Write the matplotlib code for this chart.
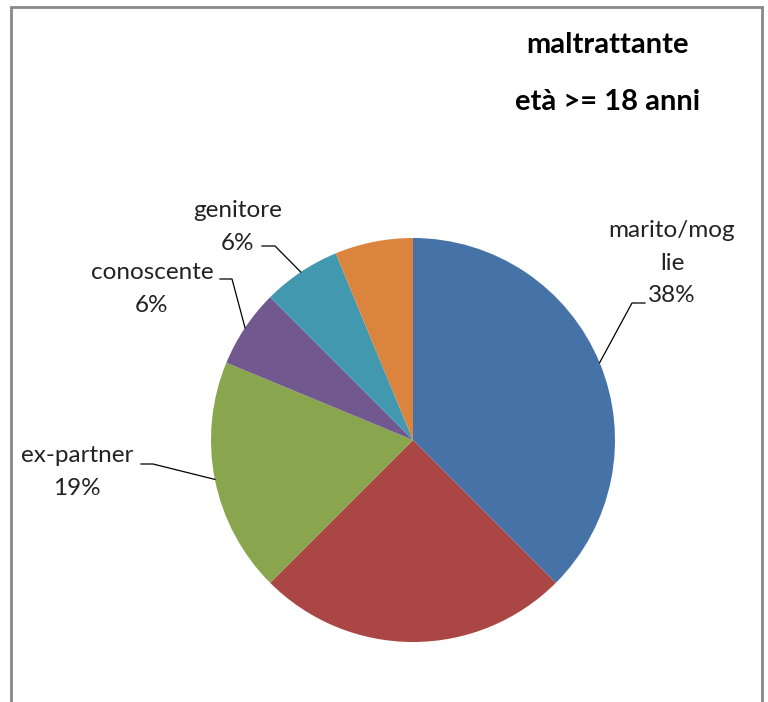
import numpy as np
import matplotlib
matplotlib.use('Agg')
import matplotlib.pyplot as plt
from matplotlib.patches import Rectangle

# data: counts per relationship of the abuser (16 cases)
categories = ['marito/moglie', 'altro', 'ex-partner', 'conoscente', 'genitore', 'altro 2']
label_text = ['marito/mog\nlie', '', 'ex-partner', 'conoscente', 'genitore', '']
values = [6, 4, 3, 1, 1, 1]
colors = ['#4572A7', '#AA4643', '#89A54E', '#71588F', '#4198AF', '#DB843D']

# label layout (pixel coords, y from top): text centre, elbow, end near text
label_pos = {
    0: ((672, 263), (632, 303), (645, 303)),
    2: ((77, 472), (153, 464), (141, 464)),
    3: ((152, 289), (232, 279), (220, 279)),
    4: ((238, 227), (275, 246), (262, 246)),
}

W, H = 768, 702
fig = plt.figure(figsize=(W / 100, H / 100), dpi=100)
ax = fig.add_axes([0, 0, 1, 1])

cx, cy, r = 413, H - 440, 202
wedges, _ = ax.pie(values, colors=colors, startangle=90, counterclock=False,
                   center=(cx, cy), radius=r, frame=True,
                   wedgeprops=dict(linewidth=0))
ax.set_xlim(0, W)
ax.set_ylim(0, H)
ax.set_aspect('equal')
ax.axis('off')

font = ['Lato', 'DejaVu Sans']
total = sum(values)
for i, (txt_xy, elbow, end) in label_pos.items():
    w = wedges[i]
    mid = np.deg2rad((w.theta1 + w.theta2) / 2)
    px, py = cx + r * np.cos(mid), cy + r * np.sin(mid)
    ax.plot([px, elbow[0], end[0]], [py, H - elbow[1], H - end[1]],
            color='black', lw=0.9)
    pct = round(values[i] / total * 100)
    ax.text(txt_xy[0], H - txt_xy[1], f'{label_text[i]}\n{pct}%',
            ha='center', va='center', fontsize=17.5, family=font,
            color='#222222', linespacing=1.65)

ax.text(607, H - 45, 'maltrattante', ha='center', va='center',
        fontsize=21, fontweight='bold', family=font)
ax.text(608, H - 102, 'età >= 18 anni', ha='center', va='center',
        fontsize=21, fontweight='bold', family=font)

# outer chart frame
ax.add_patch(Rectangle((11, -5), 751, H - 7 + 5, fill=False,
                       edgecolor='#888888', lw=2, clip_on=False))

fig.savefig('out.png', dpi=100)
